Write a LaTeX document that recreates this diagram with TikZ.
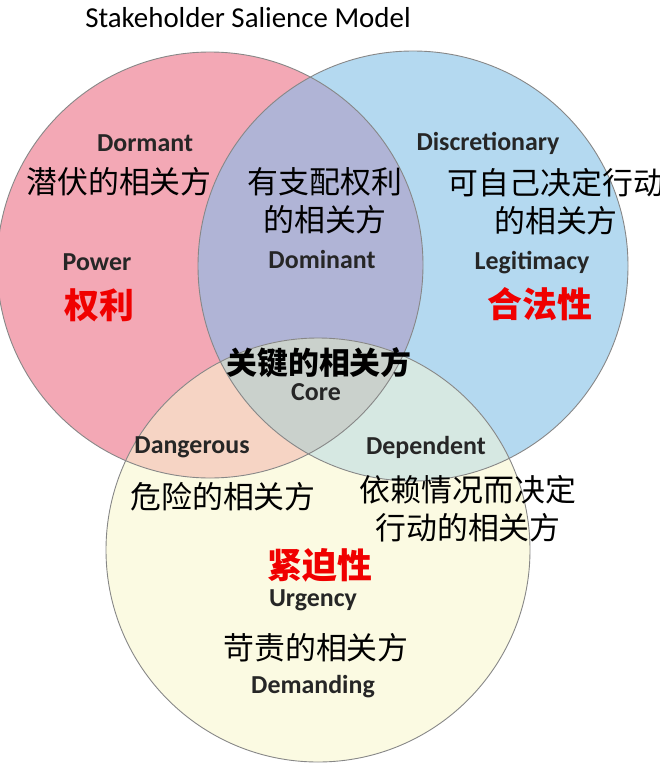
\documentclass[tikz,border=0pt]{standalone}
\usepackage{fontspec}
\setmainfont{Carlito}
\newfontfamily\cjk{Noto Sans CJK SC}
\definecolor{redfill}{RGB}{243,168,181}
\definecolor{bluefill}{RGB}{180,217,240}
\definecolor{rbfill}{RGB}{176,180,214}
\definecolor{yellowfill}{RGB}{251,250,226}
\definecolor{ryfill}{RGB}{246,212,196}
\definecolor{byfill}{RGB}{214,232,226}
\definecolor{corefill}{RGB}{202,209,204}
\definecolor{edgegray}{RGB}{135,135,135}
\definecolor{labgray}{RGB}{38,38,38}
\definecolor{hotred}{RGB}{240,0,0}
\tikzset{
  en/.style={font=\fontsize{26}{28}\selectfont\bfseries, text=labgray, inner sep=0pt},
  zh/.style={font=\cjk\fontsize{31}{38}\selectfont, text=black, inner sep=0pt, align=center},
  zhred/.style={font=\cjk\fontsize{35}{38}\selectfont\bfseries, text=hotred, inner sep=0pt},
  zhcore/.style={font=\cjk\fontsize{31}{34}\selectfont\bfseries, text=black, inner sep=0pt},
  ring/.style={draw=edgegray, line width=0.9bp},
}
\newcommand{\redc}{(210,265) circle[radius=213bp]}
\newcommand{\bluec}{(413,266) circle[radius=215bp]}
\newcommand{\yelc}{(318,550) circle[radius=212bp]}
\begin{document}
\begin{tikzpicture}[x=1bp,y=-1bp]
\useasboundingbox (0,0) rectangle (660,777);
\clip (0,0) rectangle (660,777);
% fills
\fill[redfill] \redc;
\fill[bluefill] \bluec;
\begin{scope}
  \clip \redc;
  \fill[rbfill] \bluec;
\end{scope}
\fill[yellowfill] \yelc;
\begin{scope}
  \clip \yelc;
  \fill[ryfill] \redc;
  \fill[byfill] \bluec;
  \clip \redc;
  \fill[corefill] \bluec;
\end{scope}
% outlines
\draw[ring] \redc;
\draw[ring] \bluec;
\draw[ring] \yelc;
% title
\node[font=\fontsize{29}{32}\selectfont, inner sep=0pt] (title) at (248,18) {Stakeholder Salience Model};
% power
\node[en] (dormant) at (145,143) {Dormant};
\node[zh] (dormantzh) at (119,182) {潜伏的相关方};
\node[en] (power) at (97,262) {Power};
\node[zhred] (powerzh) at (99,305) {权利};
% dominant
\node[zh] (dominantzh) at (325,201) {有支配权利\\的相关方};
\node[en] (dominant) at (322,260) {Dominant};
% legitimacy
\node[en] (discr) at (488,143) {Discretionary};
\node[zh] (discrzh) at (556,202) {可自己决定行动\\的相关方};
\node[en] (legit) at (532,263) {Legitimacy};
\node[zhred] (legitzh) at (540,304) {合法性};
% core
\node[zhcore] (corezh) at (319,363) {关键的相关方};
\node[en] (core) at (316,392) {Core};
% dangerous / dependent
\node[en] (dang) at (192,447) {Dangerous};
\node[zh] (dangzh) at (223,497) {危险的相关方};
\node[en] (dep) at (426,447) {Dependent};
\node[zh] (depzh) at (468,509) {依赖情况而决定\\行动的相关方};
% urgency
\node[zhred] (urgzh) at (320,565) {紧迫性};
\node[en] (urg) at (313,600) {Urgency};
\node[zh] (demzh) at (316,648) {苛责的相关方};
\node[en] (dem) at (313,687) {Demanding};
\end{tikzpicture}
\end{document}
